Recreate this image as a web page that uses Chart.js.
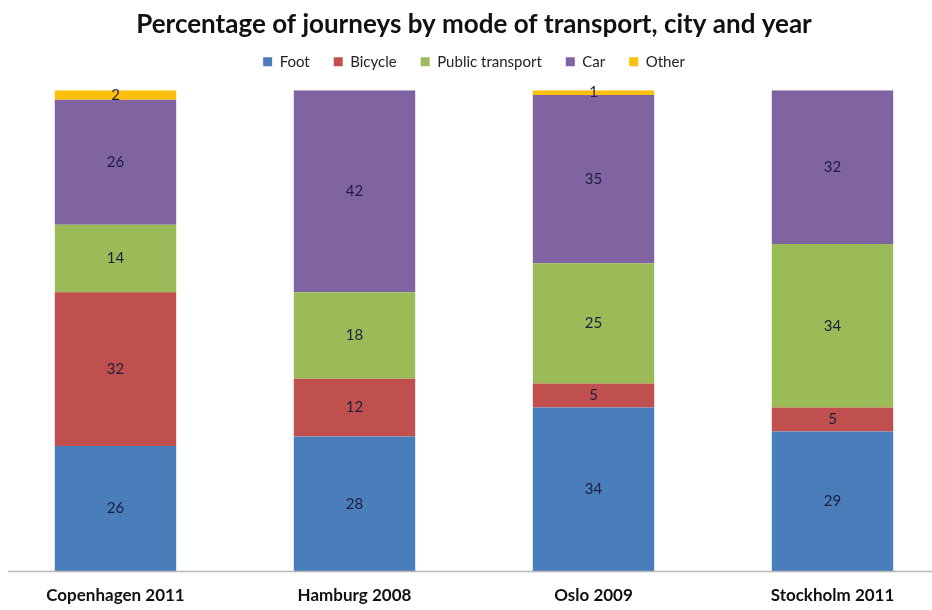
<!DOCTYPE html>
<html>
<head>
<meta charset="utf-8">
<script src="https://cdn.jsdelivr.net/npm/chart.js@4/dist/chart.umd.min.js"></script>
<style>
  html, body { margin: 0; padding: 0; background: #fff; overflow: hidden; }
  #wrap { position: relative; width: 932px; height: 610px; overflow: hidden; }
  #c { position: absolute; left: -4px; top: 0; }
</style>
</head>
<body>
<div id="wrap"><canvas id="c" width="956" height="610"></canvas></div>
<script>
const cities = ['Copenhagen 2011', 'Hamburg 2008', 'Oslo 2009', 'Stockholm 2011'];
const foot = [26, 28, 34, 29];
const bicycle = [32, 12, 5, 5];
const publicTransport = [14, 18, 25, 34];
const car = [26, 42, 35, 32];
const other = [2, null, 1, null];

const FONT = 'Lato, "Open Sans", sans-serif';

// Values written in the middle of each stacked segment
const segmentLabels = {
  id: 'segmentLabels',
  afterDatasetsDraw(chart) {
    const ctx = chart.ctx;
    ctx.save();
    ctx.font = '15px ' + FONT;
    ctx.fillStyle = '#1e1e3c';
    ctx.textAlign = 'center';
    ctx.textBaseline = 'middle';
    chart.data.datasets.forEach((ds, i) => {
      const meta = chart.getDatasetMeta(i);
      meta.data.forEach((bar, j) => {
        const v = ds.data[j];
        if (v == null || v === 0) return;
        const y = (bar.y + bar.base) / 2;
        ctx.fillText(String(v), bar.x, y);
      });
    });
    ctx.restore();
  }
};

// Horizontal base line under the bars
const baseLine = {
  id: 'baseLine',
  afterDatasetsDraw(chart) {
    const ctx = chart.ctx;
    const y = chart.chartArea.bottom + 0.5;
    ctx.save();
    ctx.strokeStyle = '#b8b8b8';
    ctx.lineWidth = 1.5;
    ctx.beginPath();
    ctx.moveTo(12, y);
    ctx.lineTo(chart.width, y);
    ctx.stroke();
    ctx.restore();
  }
};

// Extra room between the legend row and the bars
const legendGap = {
  id: 'legendGap',
  beforeInit(chart) {
    const fit = chart.legend.fit;
    chart.legend.fit = function () {
      fit.call(this);
      this.height += 11;
    };
  }
};

new Chart(document.getElementById('c'), {
  type: 'bar',
  data: {
    labels: cities,
    datasets: [
      { label: 'Foot', data: foot, backgroundColor: '#4a7ebb' },
      { label: 'Bicycle', data: bicycle, backgroundColor: '#c0504d' },
      { label: 'Public transport', data: publicTransport, backgroundColor: '#9bbb59' },
      { label: 'Car', data: car, backgroundColor: '#8064a2' },
      { label: 'Other', data: other, backgroundColor: '#fcc00c' }
    ]
  },
  options: {
    responsive: false,
    devicePixelRatio: 1,
    animation: false,
    layout: { padding: { top: 9, bottom: 6, left: 0, right: 0 } },
    datasets: { bar: { categoryPercentage: 1, barPercentage: 0.508, borderWidth: 0 } },
    plugins: {
      title: {
        display: true,
        text: 'Percentage of journeys by mode of transport, city and year',
        color: '#111',
        font: { family: FONT, size: 26, weight: 'bold' },
        padding: { top: 0, bottom: -10 }
      },
      legend: {
        display: true,
        position: 'top',
        labels: {
          color: '#222',
          font: { family: FONT, size: 15 },
          boxWidth: 9,
          boxHeight: 9,
          padding: 24
        }
      },
      tooltip: { enabled: false }
    },
    scales: {
      x: {
        stacked: true,
        grid: { display: false, drawTicks: false },
        border: { display: false },
        ticks: { color: '#111', font: { family: FONT, size: 17, weight: 'bold' }, padding: 14 },
        afterFit(scale) { scale.height = 33; }
      },
      y: {
        stacked: true,
        display: false,
        min: 0,
        max: 100
      }
    }
  },
  plugins: [segmentLabels, baseLine, legendGap]
});
</script>
</body>
</html>
